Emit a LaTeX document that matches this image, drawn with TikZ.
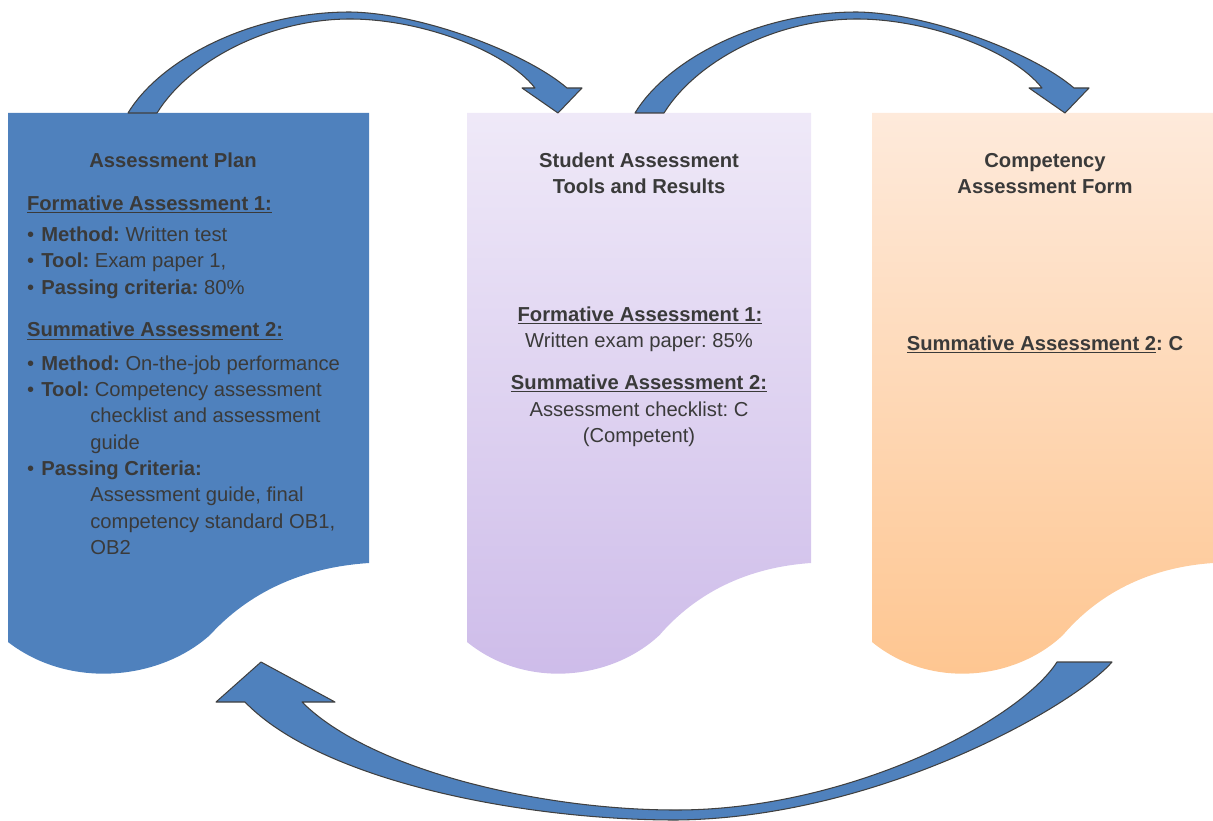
\documentclass[tikz,border=0pt]{standalone}
\usepackage{fontspec}
\setmainfont{Liberation Sans}
\frenchspacing
\definecolor{planblue}{RGB}{79,129,189}
\definecolor{txtgray}{RGB}{58,58,58}
\definecolor{lilactop}{RGB}{239,233,248}
\definecolor{lilacbot}{RGB}{205,187,233}
\definecolor{peachtop}{RGB}{254,234,219}
\definecolor{peachbot}{RGB}{254,197,143}
\definecolor{arrowline}{RGB}{64,64,64}
\newcommand{\bul}{\makebox[0.286cm][l]{•}}
\newcommand{\contline}{\hspace*{1.266cm}}
\tikzset{
  txt/.style={text=txtgray, inner sep=0pt, font=\fontsize{11.5}{15}\selectfont},
  bigarrow/.style={fill=planblue, draw=arrowline, line width=0.6pt, line join=round}
}
\begin{document}
\begin{tikzpicture}[x=0.02cm,y=-0.02cm]
    \useasboundingbox (0,0) rectangle (1213,821);
    % documents
    \fill[planblue] (8,113) -- (369,113) -- (369,563) .. controls (292,568) and (242,600) .. (210,635) .. controls (160,680) and (70,690) .. (8,642) -- cycle;
    \shade[top color=lilactop, bottom color=lilacbot] (467,113) -- (811,113) -- (811,563) .. controls (737.7,568) and (689.9,600) .. (659.6,635) .. controls (611.8,680) and (526.2,690) .. (467,642) -- cycle;
    \shade[top color=peachtop, bottom color=peachbot] (872,113) -- (1213,113) -- (1213,563) .. controls (1140.4,568) and (1093,600) .. (1063,635) .. controls (1015.6,680) and (930.7,690) .. (872,642) -- cycle;
    % top arrows
    \foreach \s in {0,507}
        \draw[bigarrow, shift={(\s,0)}] (128,113) .. controls (160,60) and (250,12) .. (350,12) .. controls (420,13) and (525,52) .. (567,88) -- (582,88) -- (558,113) -- (522,88) -- (535,88) .. controls (505,50) and (420,19) .. (350,19) .. controls (270,19) and (190,60) .. (157,113) -- cycle;
    % bottom arrow
    \draw[bigarrow] (1112,662) .. controls (1075,705) and (880,818) .. (676,820) .. controls (520,820) and (320,780) .. (245,702) -- (216,702) -- (261,662) -- (335,702) -- (302,702) .. controls (370,770) and (540,810) .. (676,810) .. controls (850,810) and (1020,720) .. (1057,662) -- cycle;
    % assessment plan
    \node[txt, anchor=base] (plantitle) at (173,167.7) {\bfseries Assessment Plan};
    \node[txt, anchor=base west] (planform) at (26.7,210) {\bfseries\underline{Formative Assessment 1:}};
    \node[txt, anchor=base west] (planformlist) at (26.7,241.3) {\begin{tabular}[t]{@{}l@{}}
        \bul\textbf{Method:} Written test\\
        \bul\textbf{Tool:} Exam paper 1,\\
        \bul\textbf{Passing criteria:} 80\%
      \end{tabular}};
    \node[txt, anchor=base west] (plansum) at (26.7,336.7) {\bfseries\underline{Summative Assessment 2:}};
    \node[txt, anchor=base west] (plansumlist) at (26.7,370) {\begin{tabular}[t]{@{}l@{}}
        \bul\textbf{Method:} On-the-job performance\\
        \bul\textbf{Tool:} Competency assessment\\
        \contline checklist and assessment\\
        \contline guide\\
        \bul\textbf{Passing Criteria:}\\
        \contline Assessment guide, final\\
        \contline competency standard OB1,\\
        \contline OB2
      \end{tabular}};
    % tools and results
    \node[txt, anchor=base] (tooltitle) at (639,167) {\bfseries\begin{tabular}[t]{@{}c@{}}Student Assessment\\Tools and Results\end{tabular}};
    \node[txt, anchor=base] (toolform) at (640,321) {\bfseries\underline{Formative Assessment 1:}};
    \node[txt, anchor=base] (toolformres) at (639,347) {Written exam paper: 85\%};
    \node[txt, anchor=base] (toolsum) at (639,389) {\bfseries\underline{Summative Assessment 2:}};
    \node[txt, anchor=base] (toolsumres) at (639,416) {\begin{tabular}[t]{@{}c@{}}Assessment checklist: C\\(Competent)\end{tabular}};
    % competency form
    \node[txt, anchor=base] (formtitle) at (1045,167) {\bfseries\begin{tabular}[t]{@{}c@{}}Competency\\Assessment Form\end{tabular}};
    \node[txt, anchor=base] (formsum) at (1045,350) {\bfseries\underline{Summative Assessment 2}: C};
\end{tikzpicture}
\end{document}
